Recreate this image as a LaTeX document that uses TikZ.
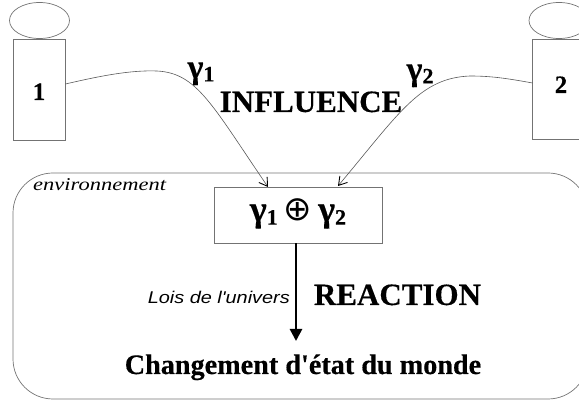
\documentclass[tikz,border=0pt]{standalone}
\usepackage{fontspec}
\setmainfont{Liberation Serif}
\newfontfamily\tb[FakeBold=0.4]{Liberation Serif Bold}
\newfontfamily\lsans{Liberation Sans}
\newfontfamily\djv{DejaVu Sans}
\usetikzlibrary{arrows.meta,shapes.geometric}
\newcommand{\gam}[2]{{\tb\fontsize{#1}{#1}\selectfont γ\raisebox{-0.1em}{\fontsize{22}{22}\selectfont #2}}}
\tikzset{
  thinline/.style={draw=black!55,line width=0.7pt},
  boldtext/.style={font=\tb\fontsize{31}{31}\selectfont,inner sep=0pt,anchor=base},
  digit/.style={font=\tb\fontsize{25}{25}\selectfont,inner sep=0pt,anchor=base},
  gammatext/.style={inner sep=0pt,anchor=base},
  curve/.style={draw=black!65,line width=0.6pt,-{Straight Barb[length=8pt,width=10pt,black,line width=0.9pt]}},
}
\begin{document}
\begin{tikzpicture}[x=1pt,y=-1pt]
\useasboundingbox (0,0) rectangle (579,403);
\clip (0,0) rectangle (579,403);
\draw[thinline,rounded corners=40pt] (13,173) rectangle (588,399);
\node[thinline,ellipse,minimum width=60pt,minimum height=36pt,inner sep=0pt] (h1) at (39.5,20.5) {};
\node[thinline,ellipse,minimum width=60pt,minimum height=36pt,inner sep=0pt] (h2) at (559,20.5) {};
\node[thinline,minimum width=52pt,minimum height=101pt,inner sep=0pt] (a1) at (39.5,89.5) {};
\node[thinline,minimum width=52pt,minimum height=100pt,inner sep=0pt] (a2) at (558.5,89) {};
\node[digit] (n1) at (39,100) {1};
\node[digit] (n2) at (561,93) {2};
\node[thinline,minimum width=168pt,minimum height=56pt,inner sep=0pt] (sum) at (298,215) {};
\node[gammatext] (st) at (298,221) {\gam{36}{1}\hspace{6pt}{\djv\mdseries\fontsize{34}{34}\selectfont ⊕}\hspace{6pt}\gam{36}{2}};
\coordinate (c1) at (268,187);
\coordinate (c2) at (338,186);
\coordinate (s1) at (65.5,84);
\coordinate (s2) at (532.5,83);
\path[curve] (s1) .. controls (100,76) and (130,70) .. (157,71) .. controls (197,73) and (212,105) .. (c1);
\path[curve] (s2) .. controls (505,78) and (490,76) .. (470,76) .. controls (420,78) and (400,112) .. (c2);
\node[boldtext] (infl) at (311,112) {INFLUENCE};
\node[boldtext] (react) at (397.5,305) {REACTION};
\node[boldtext,font=\tb\fontsize{28.2}{28.2}\selectfont] (chg) at (303,374) {Changement d'état du monde};
\node[gammatext] (g1) at (201,78) {\gam{34}{1}};
\node[gammatext] (g2) at (420,80) {\gam{34}{2}};
\node[inner sep=0pt,anchor=base west,font=\itshape\fontsize{18}{18}\selectfont] (env) at (33,191) {\scalebox{1.25}[1]{environnement}};
\node[inner sep=0pt,anchor=base east,font=\lsans\itshape\fontsize{17}{17}\selectfont] (lois) at (290,304) {\scalebox{1.17}[1]{Lois de l'univers}};
\draw[line width=2.6pt,-{Triangle[length=12pt,width=12pt]}] (sum.south -| 296,243) -- (296,341);
\end{tikzpicture}
\end{document}
